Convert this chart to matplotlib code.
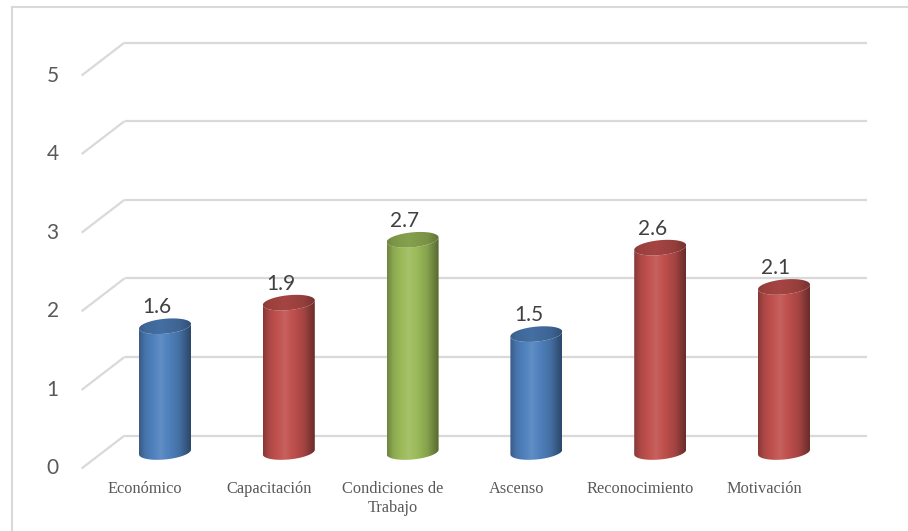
import matplotlib

matplotlib.use("Agg")

import matplotlib.pyplot as plt
import matplotlib.transforms as mtransforms
import numpy as np
from matplotlib.colors import to_rgb
from matplotlib.lines import Line2D
from matplotlib.patches import Polygon

categories = ["Económico", "Capacitación", "Condiciones de\nTrabajo", "Ascenso",
              "Reconocimiento", "Motivación"]
values = [1.6, 1.9, 2.7, 1.5, 2.6, 2.1]
bar_colors = ["#4f81bd", "#c0504d", "#9bbb59", "#4f81bd", "#c0504d", "#c0504d"]
y_ticks = [0, 1, 2, 3, 4, 5]

W, H, DPI = 908, 531, 100
DEPTH_X, DEPTH_Y = 21.5, 16.5          # pixel shift from mid plane to back wall
HALF_W = 0.21                          # cylinder radius in category units
CAP_H = 0.095                          # ellipse half height in value units
TILT = 0.03                            # right side of the ellipses sits a bit higher

fig = plt.figure(figsize=(W / DPI, H / DPI), dpi=DPI)
ax = fig.add_axes([0, 0, 1, 1])
ax.axis("off")

ax.set_xlim(-165 / 123.8, (W - 165) / 123.8)
ax.set_ylim((452 - H) / 78.6, 452 / 78.6)


def shifted(dx, dy):
    return mtransforms.offset_copy(ax.transData, fig=fig, x=dx, y=dy, units="dots")


back = shifted(DEPTH_X, DEPTH_Y)

# walls: horizontal gridlines on the back, diagonals on the side
grid_kw = dict(color="#d9d9d9", linewidth=1.6, solid_capstyle="butt", zorder=1)
n = len(categories)
for t in y_ticks:
    ax.plot([-0.5, n - 0.5], [t, t], transform=back, **grid_kw)
    lx, ly = ax.transData.transform((-0.5, t))
    ax.add_line(Line2D([lx - DEPTH_X, lx + DEPTH_X], [ly - DEPTH_Y, ly + DEPTH_Y],
                       transform=mtransforms.IdentityTransform(), **grid_kw))
    ax.text(-0.5, t, str(t), transform=shifted(-DEPTH_X - 29, -DEPTH_Y),
            ha="center", va="center", fontsize=15, color="#595959", family="Lato")


def shade(color, factor):
    rgb = np.array(to_rgb(color))
    if factor >= 1:
        return rgb + (1 - rgb) * (factor - 1)
    return rgb * factor


def ellipse(cx, cy, t):
    return np.column_stack([cx + HALF_W * np.cos(t),
                            cy + CAP_H * np.sin(t) + TILT * np.cos(t)])


stops = [0.0, 0.12, 0.42, 0.78, 1.0]
body_f = [0.70, 0.90, 1.10, 0.86, 0.55]
cap_f = [0.72, 0.80, 0.86, 0.78, 0.62]

for i, (v, c) in enumerate(zip(values, bar_colors)):
    lower = np.linspace(np.pi, 2 * np.pi, 60)
    bottom = ellipse(i, 0, lower)
    top_front = ellipse(i, v, lower)[::-1]
    body = Polygon(np.vstack([bottom, top_front]), closed=True,
                   facecolor="none", edgecolor="none", zorder=3)
    ax.add_patch(body)

    xs = np.linspace(0, 1, 200)
    grad = np.array([shade(c, f) for f in np.interp(xs, stops, body_f)])
    img = ax.imshow(grad[None, :, :], extent=[i - HALF_W, i + HALF_W, -0.3, v + 0.3],
                    aspect="auto", interpolation="bilinear", zorder=3)
    img.set_clip_path(body)

    cap = Polygon(ellipse(i, v, np.linspace(0, 2 * np.pi, 120)), closed=True,
                  facecolor="none", edgecolor="none", zorder=4)
    ax.add_patch(cap)
    cgrad = np.array([shade(c, f) for f in np.interp(xs, stops, cap_f)])
    cimg = ax.imshow(cgrad[None, :, :], extent=[i - HALF_W, i + HALF_W, v - 0.3, v + 0.3],
                     aspect="auto", interpolation="bilinear", zorder=4)
    cimg.set_clip_path(cap)

    ax.text(i, v, f"{v:.1f}", transform=shifted(-8, 19),
            ha="center", va="center", fontsize=15, color="#404040", family="Lato", zorder=5)

    ax.text(i, 0, categories[i], transform=shifted(-20, -29),
            ha="center", va="top", fontsize=11.8, color="#595959",
            family="Liberation Serif", linespacing=1.25)

# imshow may widen the limits, so pin them again
ax.set_xlim(-165 / 123.8, (W - 165) / 123.8)
ax.set_ylim((452 - H) / 78.6, 452 / 78.6)

# chart frame
frame_kw = dict(color="#d9d9d9", linewidth=1.5)
fig.add_artist(Line2D([12 / W, 12 / W], [0, 1 - 7 / H], **frame_kw))
fig.add_artist(Line2D([12 / W, 1], [1 - 7 / H, 1 - 7 / H], **frame_kw))

fig.savefig("out.png", dpi=DPI, facecolor="white")
plt.close(fig)
